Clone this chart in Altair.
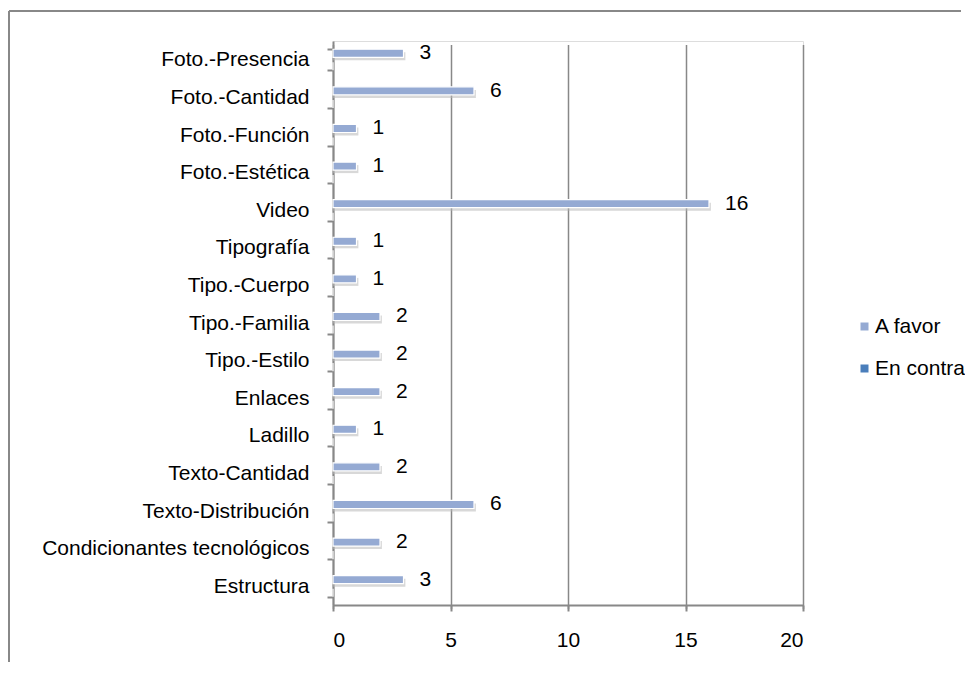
import altair as alt
import pandas as pd

categories = ['Foto.-Presencia', 'Foto.-Cantidad', 'Foto.-Función', 'Foto.-Estética', 'Video',
              'Tipografía', 'Tipo.-Cuerpo', 'Tipo.-Familia', 'Tipo.-Estilo', 'Enlaces',
              'Ladillo', 'Texto-Cantidad', 'Texto-Distribución', 'Condicionantes tecnológicos',
              'Estructura']
a_favor = [3, 6, 1, 1, 16, 1, 1, 2, 2, 2, 1, 2, 6, 2, 3]
en_contra = [0, 0, 0, 0, 0, 0, 0, 0, 0, 0, 0, 0, 0, 0, 0]
series = ['A favor', 'En contra']
colors = ['#95AAD3', '#4A7EBB']
x_ticks = [0, 5, 10, 15, 20]

rows = []
for c, a, e in zip(categories, a_favor, en_contra):
    rows.append({'cat': c, 'serie': 'A favor', 'val': a})
    rows.append({'cat': c, 'serie': 'En contra', 'val': e})
df = pd.DataFrame(rows)

FONT = 'Liberation Sans'
FS = 21
GRAY = '#888888'
H = 564

y_enc = alt.Y('cat:N', sort=categories, title=None,
              scale=alt.Scale(paddingInner=0.44, paddingOuter=0.22),
              axis=alt.Axis(tickBand='extent', labelFontSize=FS, labelFont=FONT,
                            labelColor='black', labelPadding=18, tickSize=6,
                            tickColor=GRAY, tickWidth=2, domainColor=GRAY,
                            domainWidth=2, grid=False, labelLimit=400))
yoff_enc = alt.YOffset('serie:N', sort=series,
                       scale=alt.Scale(paddingInner=0.385, paddingOuter=0))
x_enc = alt.X('val:Q', title=None,
              scale=alt.Scale(domain=[0, 20], nice=False),
              axis=alt.Axis(values=x_ticks, labelFontSize=FS, labelFont=FONT,
                            labelColor='black', labelPadding=18, tickSize=6,
                            tickColor=GRAY, tickWidth=2, domainColor=GRAY,
                            domainWidth=2, grid=True, gridColor=GRAY,
                            gridWidth=1.5))

# soft shadow under each "A favor" bar: thin band placed ~3px below the bar
shadow = alt.Chart(df).transform_filter(alt.datum.serie == 'A favor').transform_calculate(
    val2='datum.val + 0.08'
).mark_bar(color='#b8b8b8', opacity=0.55).encode(
    y=alt.Y('cat:N', sort=categories, axis=None,
            scale=alt.Scale(paddingInner=0.787, paddingOuter=0.3935,
                            range=[-3.5, H - 3.5])),
    x='val2:Q'
)

bars = alt.Chart(df).mark_bar(stroke='white', strokeWidth=1.2).encode(
    y=y_enc, yOffset=yoff_enc, x=x_enc,
    color=alt.Color('serie:N', sort=series,
                    scale=alt.Scale(domain=series, range=colors),
                    legend=alt.Legend(title=None, orient='none', legendX=521,
                                      legendY=275, symbolType='square',
                                      symbolSize=64, labelFontSize=FS,
                                      labelFont=FONT, labelOffset=0,
                                      rowPadding=20, padding=0,
                                      symbolStrokeWidth=0))
)

labels = alt.Chart(df).transform_filter(alt.datum.serie == 'A favor').mark_text(
    align='left', baseline='middle', dx=16, fontSize=FS, font=FONT, color='black'
).encode(y=alt.Y('cat:N', sort=categories), yOffset=yoff_enc,
         x='val:Q', text='val:Q')

main = alt.layer(bars, labels)

border_df = pd.DataFrame({'k': [0]})
left_border = alt.Chart(border_df).mark_rule(color=GRAY, strokeWidth=2).encode(
    x=alt.value(-324), y=alt.value(-30), y2=alt.value(621))
top_border = alt.Chart(border_df).mark_rule(color=GRAY, strokeWidth=2).encode(
    x=alt.value(-324), x2=alt.value(628), y=alt.value(-30))

chart = alt.layer(shadow, main, left_border, top_border).resolve_scale(
    y='independent'
).properties(
    width=470, height=H, padding={'left': 0, 'top': 2, 'right': 0, 'bottom': 0}
).configure_view(stroke=None).configure(background='white')

chart.save('out.html', embed_options={'renderer': 'svg', 'actions': False})
